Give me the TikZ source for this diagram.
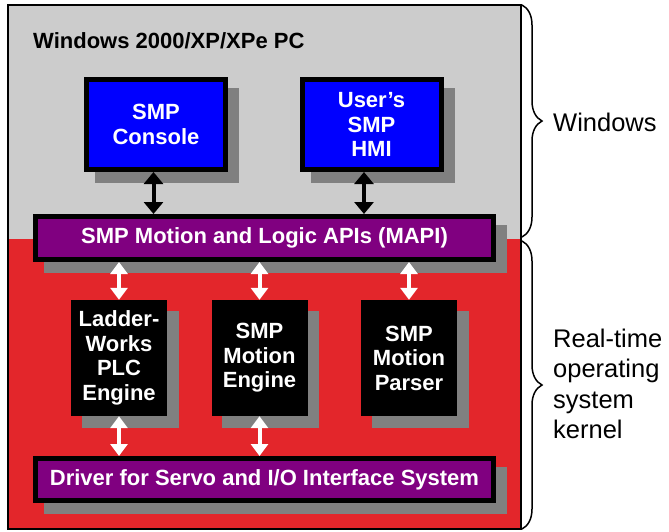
\documentclass[tikz,border=0pt]{standalone}
\usepackage{fontspec}
\setmainfont{Liberation Sans}
\usetikzlibrary{positioning,arrows.meta,shadows,decorations.pathreplacing}

\definecolor{wingray}{RGB}{204,204,204}
\definecolor{rtred}{RGB}{227,38,43}
\definecolor{mapipurple}{RGB}{128,0,128}
\definecolor{shadowgray}{RGB}{128,128,128}

\newcommand\boxfont{\bfseries\fontsize{22}{24.5}\selectfont}
\newcommand\sidefont{\fontsize{25.5}{30.3}\selectfont}

\tikzset{
  region/.style={inner sep=0pt, outer sep=0pt, minimum width=513pt},
  boxshadow/.style={drop shadow={shadow xshift=11pt, shadow yshift=-11pt,
      fill=shadowgray, draw=shadowgray, opacity=1}},
  pcbox/.style={fill=blue, draw=black, line width=5pt, text=white, font=\boxfont,
      align=center, inner sep=0pt, minimum width=139pt, minimum height=90pt, boxshadow},
  apibar/.style={fill=mapipurple, draw=black, line width=5pt, text=white, font=\boxfont,
      inner sep=0pt, minimum width=458pt, minimum height=43pt, boxshadow},
  rtbox/.style={fill=black, text=white, font=\boxfont, align=center, inner sep=0pt,
      minimum width=96pt, minimum height=116pt, boxshadow},
  blkarrow/.style={draw=black, line width=4pt,
      {Triangle[width=19pt,length=12pt]}-{Triangle[width=19pt,length=12pt]}},
  whtarrow/.style={draw=white, line width=4pt,
      {Triangle[width=17pt,length=12pt]}-{Triangle[width=17pt,length=12pt]}},
  kbrace/.style={draw=black, line width=1.5pt, decorate,
      decoration={brace, amplitude=20pt}},
  sidelabel/.style={font=\sidefont, align=left, inner sep=0pt}
}

\begin{document}
\begin{tikzpicture}[x=1pt, y=-1pt]
  \useasboundingbox (0,0) rectangle (669,531);

  % the two layers
  \node[region, fill=wingray, minimum height=234pt] (win) at (264.5,122) {};
  \node[region, fill=rtred, minimum height=290pt] (rtos) at (264.5,384) {};
  \draw[line width=2pt] (win.north west) rectangle (rtos.south east);

  \node[anchor=west, inner sep=0pt, font=\boxfont] (pc) at (33,41) {Windows 2000/XP/XPe PC};

  % windows side
  \node[pcbox] (con) at (156,124.5) {SMP\\Console};
  \node[pcbox] (hmi) at (371.5,124.5) {User’s\\SMP\\HMI};
  \node[apibar] (mapi) at (264.5,238) {SMP Motion and Logic APIs (MAPI)};

  % real-time side
  \node[rtbox] (lad) at (119,358) {Ladder-\\Works\\PLC\\Engine};
  \node[rtbox] (eng) at (259.5,358) {SMP\\Motion\\Engine};
  \node[rtbox] (par) at (409,358) {SMP\\Motion\\Parser};
  \node[apibar, minimum height=42pt] (drv) at (264.5,479.5) {Driver for Servo and I/O Interface System};

  % connections
  \draw[blkarrow] ([xshift=-2.5pt]con.south) -- ([xshift=-2.5pt]con.south |- mapi.north);
  \draw[blkarrow] ([xshift=-7.5pt]hmi.south) -- ([xshift=-7.5pt]hmi.south |- mapi.north);
  \draw[whtarrow] (lad.north |- mapi.south) -- (lad.north);
  \draw[whtarrow] (eng.north |- mapi.south) -- (eng.north);
  \draw[whtarrow] (par.north |- mapi.south) -- (par.north);
  \draw[whtarrow] (lad.south) -- (lad.south |- drv.north);
  \draw[whtarrow] (eng.south) -- (eng.south |- drv.north);

  % braces
  \draw[kbrace] ([xshift=1pt]win.north east) -- ([xshift=1pt,yshift=2pt]win.south east);
  \draw[kbrace] ([xshift=1pt,yshift=-2pt]rtos.north east) -- ([xshift=1pt]rtos.south east);
  \node[sidelabel, right=32pt of win.east] (winlbl) {Windows};
  \node[sidelabel, right=32pt of rtos.east] (rtlbl) {Real-time\\operating\\system\\kernel};
\end{tikzpicture}
\end{document}
